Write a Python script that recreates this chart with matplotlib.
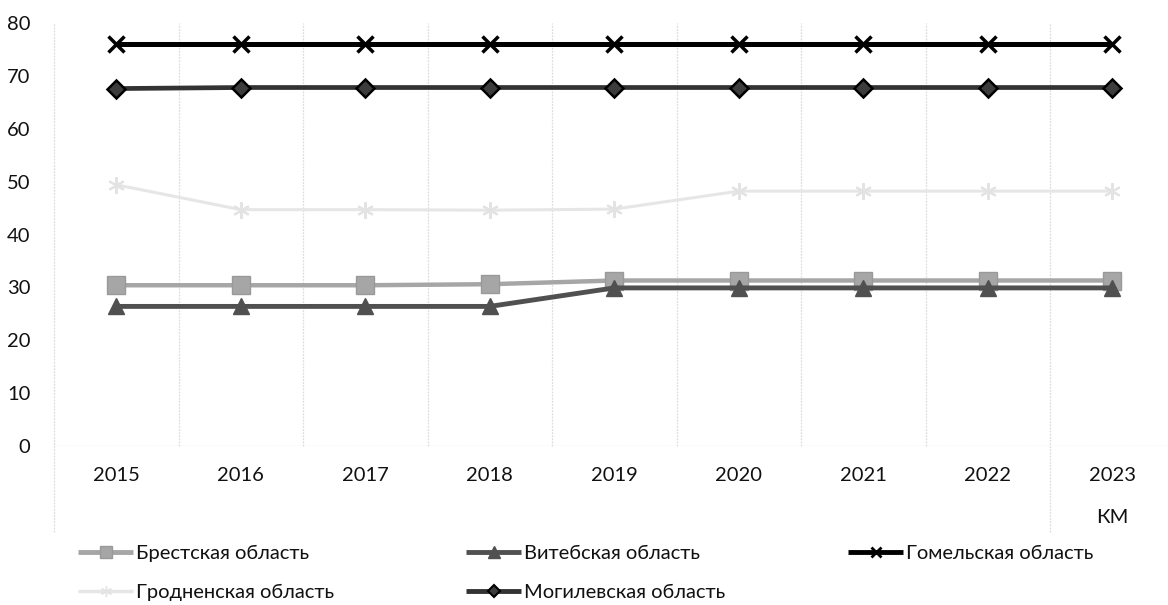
import matplotlib
matplotlib.use("Agg")
import matplotlib.pyplot as plt
from matplotlib.lines import Line2D
import matplotlib.transforms as mtransforms

plt.rcParams['font.family'] = ['Lato', 'DejaVu Sans']

years = ['2015', '2016', '2017', '2018', '2019', '2020', '2021', '2022', '2023']
brest = [30.4, 30.4, 30.4, 30.6, 31.3, 31.3, 31.3, 31.3, 31.3]
vitebsk = [26.4, 26.4, 26.4, 26.4, 29.9, 29.9, 29.9, 29.9, 29.9]
gomel = [76, 76, 76, 76, 76, 76, 76, 76, 76]
grodno = [49.4, 44.7, 44.7, 44.6, 44.8, 48.2, 48.2, 48.2, 48.2]
mogilev = [67.6, 67.8, 67.8, 67.8, 67.8, 67.8, 67.8, 67.8, 67.8]
series_names = ['Брестская область', 'Витебская область', 'Гомельская область',
                'Гродненская область', 'Могилевская область']
group_label = 'КМ'
yticks = [0, 10, 20, 30, 40, 50, 60, 70, 80]

W, H = 1168, 605
fig = plt.figure(figsize=(W / 100, H / 100), dpi=100)
ax = fig.add_axes([54 / W, (H - 446) / H, 1120.5 / W, 423 / H])
ax.set_xlim(-0.5, 8.5)
ax.set_ylim(0, 80)
for s in ax.spines.values():
    s.set_visible(False)

x = list(range(len(years)))
grid_c = '#DCDCDC'
# vertical category gridlines
for i in range(len(years)):
    b = i - 0.5
    ext = -0.203 if i in (0, 8) else 0
    ax.axvline(b, ymin=ext, ymax=1, color=grid_c, lw=0.9, ls=(0, (1.5, 1)),
               clip_on=False, zorder=0)
ax.axhline(0, color=grid_c, lw=1.0, ls=(0, (1.5, 1)), zorder=0)

styles = [
    dict(color='#A6A6A6', lw=3.2, marker='s', ms=12.5, mfc='#A6A6A6', mec='#999999', mew=1),
    dict(color='#505050', lw=3.5, marker='^', ms=12, mfc='#505050', mec='#505050', mew=1),
    dict(color='#000000', lw=3.6, marker='x', ms=11, mfc='#000000', mec='#000000', mew=2.5),
    dict(color='#E6E6E6', lw=2.2, marker=(6, 2, 0), ms=12, mfc='#E3E3E3', mec='#E3E3E3', mew=1.5),
    dict(color='#333333', lw=3.4, marker='D', ms=9.5, mfc='#3C3C3C', mec='#000000', mew=1.8),
]
data = [brest, vitebsk, gomel, grodno, mogilev]
for vals, st in zip(data, styles):
    ax.plot(x, vals, solid_capstyle='butt', clip_on=False, **st)

ax.set_yticks(yticks)
ax.set_yticklabels([str(v) for v in yticks])
ax.tick_params(axis='y', length=0, pad=17, labelsize=14.5, labelcolor='#111111')
ax.set_xticks(x)
ax.set_xticklabels(years)
ax.tick_params(axis='x', length=0, pad=15, labelsize=14.5, labelcolor='#111111')

trans = mtransforms.blended_transform_factory(ax.transData, ax.transAxes)
ax.text(8, -0.170, group_label, transform=trans, ha='center', va='center',
        fontsize=14.5, color='#111111')

# legend entries
leg_styles = [
    dict(color='#A6A6A6', lw=3.5, marker='s', ms=8, mfc='#A6A6A6', mec='#999999'),
    dict(color='#505050', lw=3.5, marker='^', ms=8, mfc='#505050', mec='#505050'),
    dict(color='#000000', lw=3.5, marker='x', ms=7, mec='#000000', mew=2),
    dict(color='#E6E6E6', lw=2.5, marker=(6, 2, 0), ms=8, mec='#E3E3E3'),
    dict(color='#333333', lw=3.5, marker='D', ms=6, mfc='#3C3C3C', mec='#000000', mew=1.5),
]
pos = [(78, 553), (466, 553), (848, 553), (78, 592), (466, 592)]
for name, st, (px, py) in zip(series_names, leg_styles, pos):
    h = Line2D([], [], label=name, solid_capstyle='butt', **st)
    fig.legend(handles=[h], loc='center left', bbox_to_anchor=(px / W, (H - py) / H),
               frameon=False, borderpad=0, borderaxespad=0, handlelength=2.75,
               handletextpad=0.15, fontsize=14.5, labelcolor='#111111')

fig.savefig('out.png', dpi=100)
